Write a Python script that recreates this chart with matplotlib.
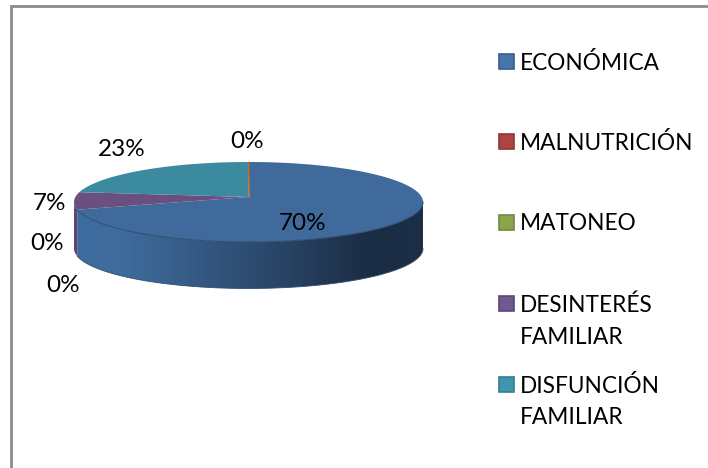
import matplotlib
matplotlib.use('Agg')
import matplotlib.pyplot as plt
import numpy as np
from matplotlib.colors import LinearSegmentedColormap
from matplotlib.patches import Polygon, Rectangle

plt.rcParams['font.family'] = ['Lato', 'DejaVu Sans']

# sixth category has no legend entry in the original, only the orange line and a 0% label
valores = [70, 0, 0, 7, 23, 0]
categorias = ['ECONÓMICA', 'MALNUTRICIÓN', 'MATONEO', 'DESINTERÉS\nFAMILIAR', 'DISFUNCIÓN\nFAMILIAR']
cores_topo = ['#3f6a9b', '#a33f3d', '#80993f', '#6a4f80', '#3b8aa0', '#c8682a']
cores_legenda = ['#4675ac', '#ab4442', '#88a54a', '#71588f', '#3f97ae']
bordas_legenda = ['#385d8a', '#8c3836', '#71893f', '#5c4776', '#357d91']

fig = plt.figure(figsize=(7.08, 4.68), dpi=100)
ax = fig.add_axes([0, 0, 1, 1])
ax.set_xlim(0, 708)
ax.set_ylim(468, 0)
ax.axis('off')

# moldura: so esquerda e topo aparecem no recorte
ax.plot([11, 11, 708], [468, 5.5, 5.5], color='#8c8c8c', lw=2, solid_joinstyle='miter')

# elipse do topo com perspectiva (k desloca o centro da pizza para cima)
cx, cy, rx, ry, k = 248.5, 202, 174.5, 40, 0.125
altura = 46.5


def borda(t):
    d = 1 + k * np.cos(t)
    return cx + rx * np.sin(t) * np.sqrt(1 - k ** 2) / d, cy - ry * (np.cos(t) + k) / d


acum = np.cumsum([0] + valores) / sum(valores) * 2 * np.pi
t_dir = np.arccos(-k)  # ponto mais a direita da elipse
t_esq = 2 * np.pi - t_dir  # ponto mais a esquerda
apice = (cx, cy - ry * k)

# parede lateral azul com gradiente
t = np.linspace(t_dir, acum[1], 150)
x, y = borda(t)
parede = Polygon(np.r_[np.c_[x, y], np.c_[x[::-1], y[::-1] + altura]], closed=True,
                 fc='none', ec='none', transform=ax.transData)
ax.add_patch(parede)
grad = LinearSegmentedColormap.from_list('parede', [(0, '#3f6c9f'), (0.15, '#3e6a9c'), (0.5, '#2e4d72'),
                                                    (0.85, '#1a2c43'), (1, '#1c2f47')])
img = ax.imshow(np.linspace(0, 1, 256)[None, :], cmap=grad, extent=[cx - rx, cx + rx, 300, 190],
                aspect='auto', zorder=2)
img.set_clip_path(parede)
ax.set_xlim(0, 708)
ax.set_ylim(468, 0)
ax.plot(x, y + altura, color='#2f5070', lw=0.6, zorder=3)

# parede roxa, so a tirinha visivel a esquerda
t = np.linspace(acum[3], acum[4], 60)
t = t[t <= t_esq]
x, y = borda(t)
ax.fill(np.r_[x, x[::-1]], np.r_[y, y[::-1] + altura], color='#5f4672', lw=0, zorder=2)

# fatias do topo
for i, v in enumerate(valores):
    if v == 0:
        continue
    t = np.linspace(acum[i], acum[i + 1], 200)
    x, y = borda(t)
    ax.fill(np.r_[apice[0], x], np.r_[apice[1], y], color=cores_topo[i], lw=0, zorder=4)

# contorno frontal escuro do topo
t = np.linspace(t_dir, acum[1], 150)
x, y = borda(t)
ax.plot(x, y, color='#2f5070', lw=0.8, zorder=5)

# fatia de 0% no fim do circulo vira so uma linha laranja
x, y = borda(np.array([acum[6]]))
ax.plot([apice[0], x[0]], [apice[1], y[0]], color=cores_topo[5], lw=1, zorder=6)

# rotulos
pos_rotulos = [(302.5, 223), (63, 286), (47, 244), (49, 204), (122, 150), (247, 142)]
for v, (px, py) in zip(valores, pos_rotulos):
    ax.text(px, py, f'{v}%', fontsize=17.5, color='black', ha='center', va='center', zorder=7)

# legenda
pos_legenda = [62, 142, 223, 304, 385]
for nome, cor, ec, py in zip(categorias, cores_legenda, bordas_legenda, pos_legenda):
    ax.add_patch(Rectangle((498.5, py - 8), 15, 15, fc=cor, ec=ec, lw=1.2))
    for j, linha in enumerate(nome.split('\n')):
        ax.text(520, py + 1 + j * 32, linha, fontsize=16.3, color='black', ha='left', va='center')

fig.savefig('out.png', dpi=100)
